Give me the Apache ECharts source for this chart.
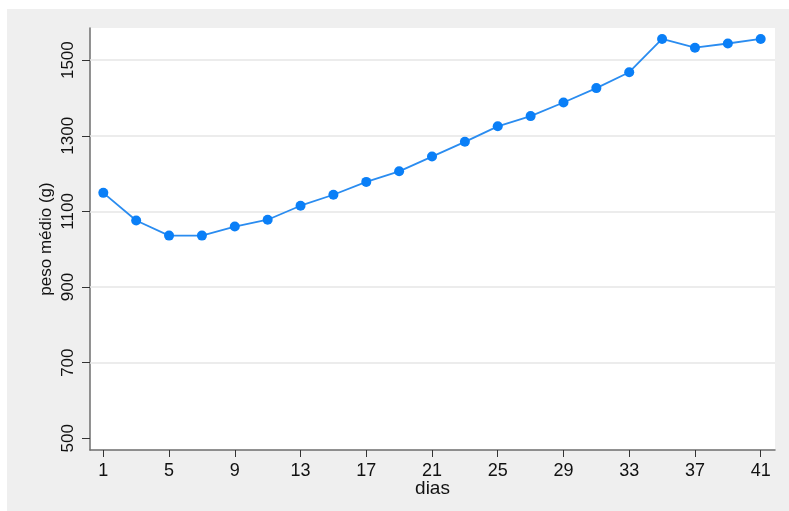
<!DOCTYPE html>
<html>
<head>
<meta charset="utf-8">
<script src="https://cdn.jsdelivr.net/npm/echarts@6/dist/echarts.min.js"></script>
<style>
  html, body { margin: 0; padding: 0; background: #fff; }
  #chart { width: 789px; height: 511px; }
</style>
</head>
<body>
<div id="chart"></div>
<script>
// dias (x) e peso médio em gramas (y)
const dias = [1, 3, 5, 7, 9, 11, 13, 15, 17, 19, 21, 23, 25, 27, 29, 31, 33, 35, 37, 39, 41];
const pesoMedio = [1149, 1076, 1036, 1036, 1060, 1078, 1115, 1144, 1178, 1206, 1245,
  1284, 1325, 1352, 1388, 1426, 1468, 1556, 1533, 1544, 1556];
const xTicks = [1, 5, 9, 13, 17, 21, 25, 29, 33, 37, 41];
const yTicks = [500, 700, 900, 1100, 1300, 1500];
const yGridLines = [700, 900, 1100, 1300, 1500];

const font = "'Liberation Sans', Arial, sans-serif";
const chart = echarts.init(document.getElementById("chart"));

chart.setOption({
  backgroundColor: "#ffffff",
  animation: false,
  graphic: [
    {
      type: "rect",
      z: -10,
      shape: { x: 7, y: 9, width: 782, height: 502 },
      style: { fill: "#efefef" }
    }
  ],
  grid: {
    left: 90,
    top: 28,
    right: 14,
    bottom: 61,
    show: true,
    backgroundColor: "#ffffff",
    borderWidth: 0
  },
  xAxis: {
    type: "value",
    min: 0.19,
    max: 41.87,
    name: "dias",
    nameLocation: "middle",
    nameMoveOverlap: false,
    nameGap: 29,
    nameTextStyle: { color: "#111", fontSize: 19, fontFamily: font },
    axisLine: { show: true, lineStyle: { color: "#6e6e6e", width: 1.5 } },
    axisTick: { show: true, length: 7, lineStyle: { color: "#333", width: 1 }, customValues: xTicks },
    axisLabel: {
      color: "#111", fontSize: 18, fontFamily: font, margin: 12,
      customValues: xTicks, formatter: v => String(v)
    },
    splitLine: { show: false }
  },
  yAxis: {
    type: "value",
    min: 469,
    max: 1585,
    name: "peso médio (g)",
    nameLocation: "middle",
    nameMoveOverlap: false,
    nameGap: 35,
    nameRotate: 90,
    nameTextStyle: { color: "#111", fontSize: 17, fontFamily: font },
    axisLine: { show: true, lineStyle: { color: "#6e6e6e", width: 1.5 } },
    axisTick: { show: true, length: 8, lineStyle: { color: "#333", width: 1 }, customValues: yTicks },
    axisLabel: {
      color: "#111", fontSize: 17, fontFamily: font, margin: 13, rotate: 90,
      customValues: yTicks, formatter: v => String(v)
    },
    splitLine: { show: false }
  },
  series: [
    {
      // linhas de grade horizontais
      type: "line",
      data: [],
      z: 1,
      silent: true,
      markLine: {
        silent: true,
        symbol: "none",
        label: { show: false },
        lineStyle: { color: "#e6e6e6", width: 1.5, type: "solid" },
        data: yGridLines.map(v => ({ yAxis: v }))
      }
    },
    {
      type: "line",
      z: 5,
      data: dias.map((d, i) => [d, pesoMedio[i]]),
      symbol: "circle",
      symbolSize: 10,
      itemStyle: { color: "#0a7ff7" },
      lineStyle: { color: "#2a8cf0", width: 1.8 }
    }
  ]
});
</script>
</body>
</html>
